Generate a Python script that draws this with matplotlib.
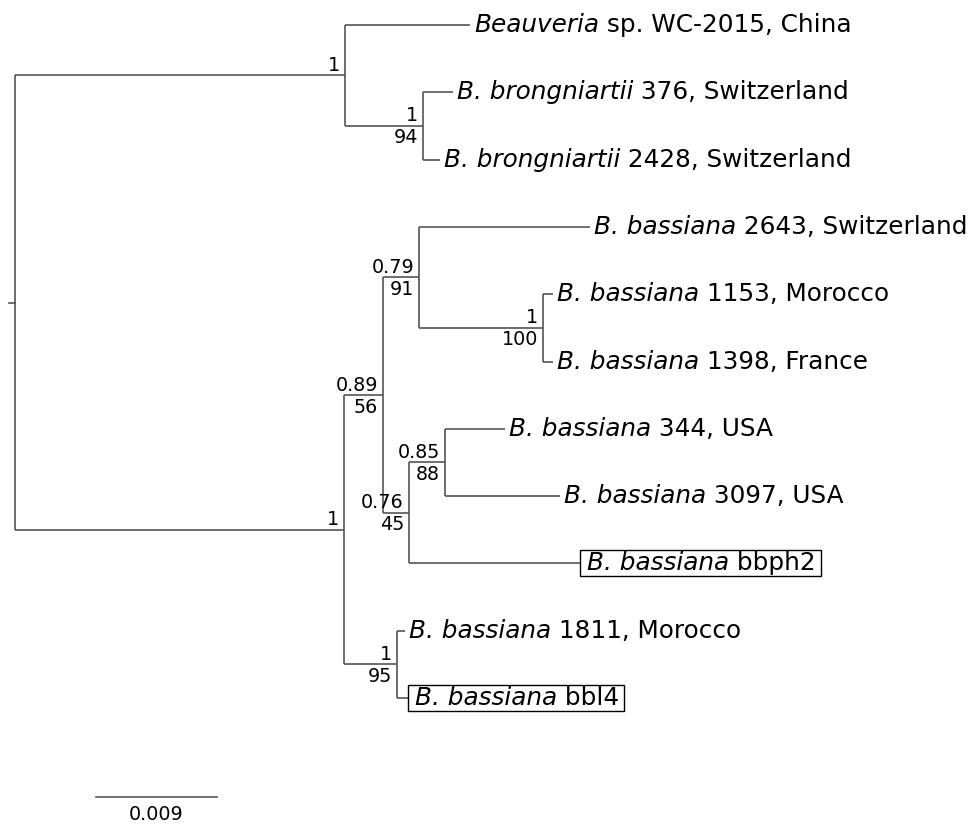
import matplotlib
matplotlib.use('Agg')
import matplotlib.pyplot as plt
from matplotlib.patches import Rectangle

plt.rcParams['font.family'] = ['DejaVu Sans']

# tree: parent index, branch length, tip label (italic part, plain part),
# support (top / bottom), boxed tips
parent = [-1, 0, 1, 1, 3, 3, 0, 6, 7, 8, 8, 10, 10, 7, 13, 14, 14, 13, 6, 18, 18]
branch_len = [0, 0.02455, 0.0093, 0.0058, 0.00223, 0.00126,
              0.02447, 0.0029, 0.00268, 0.01272, 0.00922, 0.00074, 0.00074,
              0.00193, 0.00268, 0.00446, 0.00855, 0.01272,
              0.00394, 0.0006, 0.0008]
tip_italic = ['', '', 'Beauveria', '', 'B. brongniartii', 'B. brongniartii',
              '', '', '', 'B. bassiana', '', 'B. bassiana', 'B. bassiana',
              '', '', 'B. bassiana', 'B. bassiana', 'B. bassiana',
              '', 'B. bassiana', 'B. bassiana']
tip_plain = ['', '', ' sp. WC-2015, China', '', ' 376, Switzerland',
             ' 2428, Switzerland', '', '', '', ' 2643, Switzerland', '',
             ' 1153, Morocco', ' 1398, France', '', '', ' 344, USA',
             ' 3097, USA', ' bbph2', '', ' 1811, Morocco', ' bbl4']
support_top = ['', '1', '', '1', '', '', '1', '0.89', '0.79', '', '1', '', '',
               '0.76', '0.85', '', '', '', '1', '', '']
support_bot = ['', '', '', '94', '', '', '', '56', '91', '', '100', '', '',
               '45', '88', '', '', '', '95', '', '']
boxed = [17, 20]
scale_len = 0.009

n = len(parent)
children = [[j for j in range(n) if parent[j] == i] for i in range(n)]

# x = cumulative branch length
xs = [0.0] * n
for i in range(1, n):
    xs[i] = xs[parent[i]] + branch_len[i]

# y: tips in order, internal nodes in the middle of their children
ys = [None] * n
k = 0
def place(i):
    global k
    if not children[i]:
        ys[i] = k
        k += 1
    else:
        for c in children[i]:
            place(c)
        ys[i] = (ys[children[i][0]] + ys[children[i][-1]]) / 2
place(0)

line_col = '#555555'
lw = 1.2
fs_tip = 17.8
fs_sup = 13.8

fig = plt.figure(figsize=(9.78, 8.24), dpi=100)
ax = fig.add_axes([0, 0, 1, 1])
px = scale_len / 121.0
ax.set_xlim(-15 * px, 963 * px)
ax.set_ylim(11.872, -0.3715)
ax.axis('off')

for i in range(1, n):
    ax.plot([xs[parent[i]], xs[i]], [ys[i], ys[i]], color=line_col, lw=lw,
            solid_capstyle='butt')
for i in range(n):
    if children[i]:
        ax.plot([xs[i], xs[i]], [ys[children[i][0]], ys[children[i][-1]]],
                color=line_col, lw=lw, solid_capstyle='butt')
# root stem
ax.plot([-6 * px, 0], [ys[0], ys[0]], color=line_col, lw=lw)

tip_texts = {}
for i in range(n):
    if tip_italic[i]:
        off = 7 if i in boxed else 4
        t1 = ax.annotate(tip_italic[i], (xs[i], ys[i]), xytext=(off, -7),
                         textcoords='offset pixels', ha='left', va='baseline',
                         fontsize=fs_tip, fontstyle='italic')
        t2 = ax.annotate(tip_plain[i], xy=(1, 0), xycoords=t1,
                         ha='left', va='bottom', fontsize=fs_tip)
        tip_texts[i] = (t1, t2)
    if support_top[i]:
        ax.annotate(support_top[i], (xs[i], ys[i]), xytext=(-5, 10),
                    textcoords='offset pixels', ha='right', va='center',
                    fontsize=fs_sup)
    if support_bot[i]:
        ax.annotate(support_bot[i], (xs[i], ys[i]), xytext=(-5, -12),
                    textcoords='offset pixels', ha='right', va='center',
                    fontsize=fs_sup)

# boxes round the new isolates
fig.canvas.draw()
r = fig.canvas.get_renderer()
for i in boxed:
    b1 = tip_texts[i][0].get_window_extent(r)
    b2 = tip_texts[i][1].get_window_extent(r)
    x0 = ax.transData.transform((xs[i], ys[i]))[0]
    y0 = min(b1.y0, b2.y0) - 1
    y1 = max(b1.y1, b2.y1) + 1
    rect = Rectangle((x0, y0), b2.x1 + 5 - x0, y1 - y0,
                     transform=None, fill=False, ec='black', lw=1.0)
    fig.add_artist(rect)

# scale bar
sx0 = 81 * px
ax.plot([sx0, sx0 + scale_len], [11.47, 11.47], color=line_col, lw=lw)
ax.annotate(f'{scale_len}', (sx0 + scale_len / 2, 11.47), xytext=(0, -18),
            textcoords='offset pixels', ha='center', va='center', fontsize=fs_sup)

fig.savefig('out.png', dpi=100)
